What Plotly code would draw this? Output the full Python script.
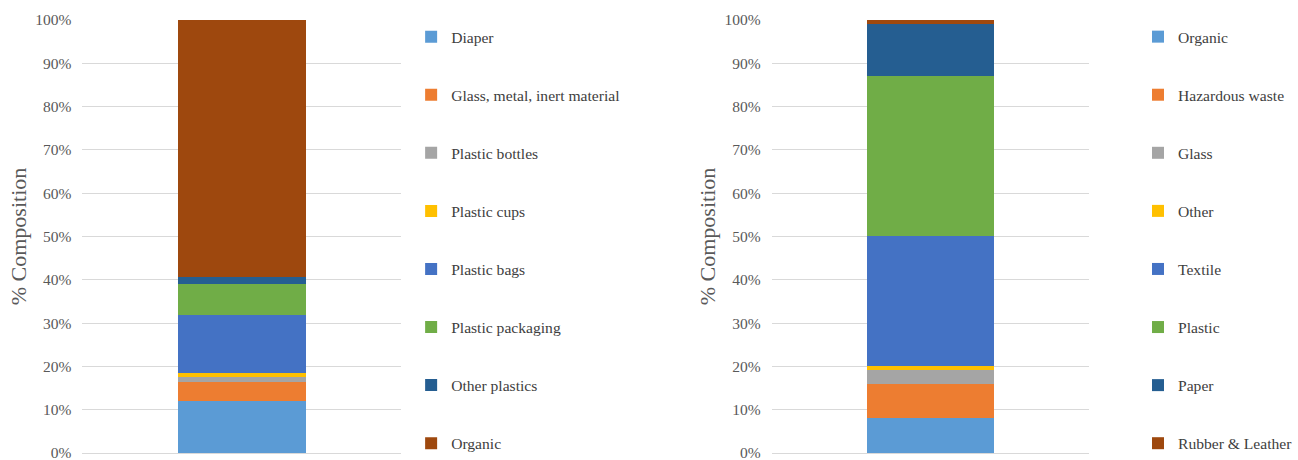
import plotly.graph_objects as go

# Left chart data (fractions of total)
left_categories = ["Diaper", "Glass, metal, inert material", "Plastic bottles", "Plastic cups",
                   "Plastic bags", "Plastic packaging", "Other plastics", "Organic"]
left_values = [0.12, 0.045, 0.011, 0.009, 0.134, 0.071, 0.016, 0.594]

# Right chart data
right_categories = ["Organic", "Hazardous waste", "Glass", "Other",
                    "Textile", "Plastic", "Paper", "Rubber & Leather"]
right_values = [0.08, 0.08, 0.031, 0.01, 0.30, 0.369, 0.12, 0.01]

colors = ["#5B9BD5", "#ED7D31", "#A5A5A5", "#FFC000", "#4472C4", "#70AD47", "#255E91", "#9E480E"]
yticks = [i / 10 for i in range(11)]

W, H = 1298, 460
FONT = "'Times New Roman', 'Liberation Serif', Tinos, serif"

fig = go.Figure()
for name, val, col in zip(left_categories, left_values, colors):
    fig.add_trace(go.Bar(x=["L"], y=[val], name=name, marker=dict(color=col, line=dict(width=0)),
                         xaxis="x", yaxis="y", legend="legend", legendgroup="L" + name))
for name, val, col in zip(right_categories, right_values, colors):
    fig.add_trace(go.Bar(x=["R"], y=[val], name=name, marker=dict(color=col, line=dict(width=0)),
                         xaxis="x2", yaxis="y2", legend="legend2", legendgroup="R" + name))

yax = dict(range=[0, 1], tickvals=yticks, tickformat=".0%", showgrid=True, gridcolor="#D9D9D9",
           gridwidth=1.3, zeroline=True, zerolinecolor="#D9D9D9", zerolinewidth=1.3,
           showline=False, ticks="", automargin=False, layer="below traces",
           ticklabelstandoff=10, ticklabeloverflow="allow",
           tickfont=dict(family=FONT, size=15.5, color="#595959"),
           title=dict(text="% Composition", font=dict(family=FONT, size=22, color="#595959"), standoff=2))
xax = dict(showticklabels=False, showgrid=False, zeroline=False, showline=False, ticks="", automargin=False)

legend_common = dict(traceorder="grouped", tracegroupgap=34.8, yanchor="top", xanchor="left",
                     font=dict(family=FONT, size=15.6, color="#404040"), bgcolor="rgba(0,0,0,0)",
                     itemwidth=30, maxheight=2000)

fig.update_layout(
    width=W, height=H,
    margin=dict(l=0, r=0, t=20, b=7),
    paper_bgcolor="white", plot_bgcolor="white",
    barmode="stack", bargap=0.6,
    xaxis=dict(domain=[83 / W, 404 / W], **xax),
    xaxis2=dict(domain=[777 / W, 1097 / W], **xax),
    yaxis=dict(anchor="x", **yax),
    yaxis2=dict(anchor="x2", **yax),
    legend=dict(x=414 / W, y=0.995, **legend_common),
    legend2=dict(x=1146 / W, y=0.995, **legend_common),
)

fig.write_html("out.html", config={"displayModeBar": False},
               post_script="document.body.style.margin='0px';document.body.style.overflow='hidden';")
